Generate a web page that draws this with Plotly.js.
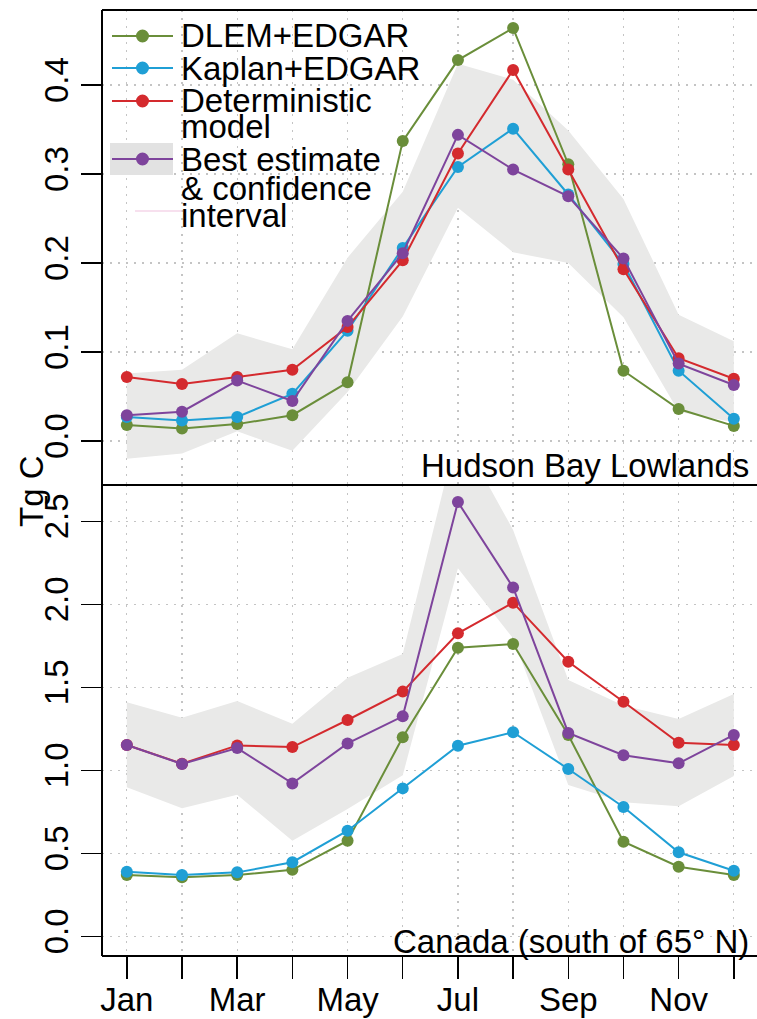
<!DOCTYPE html>
<html>
<head>
<meta charset="utf-8">
<script src="https://cdn.plot.ly/plotly-3.0.1.min.js"></script>
<style>
  html, body { margin: 0; padding: 0; background: #fff; overflow: hidden; }
  #chart { width: 757px; height: 1019px; }
</style>
</head>
<body>
<div id="chart"></div>
<script>
// ---------- data ----------
const monthIdx = [1, 2, 3, 4, 5, 6, 7, 8, 9, 10, 11, 12];
const monthNames = ['Jan','Feb','Mar','Apr','May','Jun','Jul','Aug','Sep','Oct','Nov','Dec'];
const tickLabels = ['Jan','','Mar','','May','','Jul','','Sep','','Nov',''];

// Hudson Bay Lowlands (Tg C)
const hblDLEM   = [0.018, 0.014, 0.019, 0.029, 0.066, 0.337, 0.428, 0.464, 0.311, 0.079, 0.036, 0.017];
const hblKaplan = [0.027, 0.023, 0.027, 0.053, 0.124, 0.217, 0.308, 0.351, 0.277, 0.199, 0.079, 0.025];
const hblDet    = [0.072, 0.064, 0.072, 0.080, 0.128, 0.203, 0.323, 0.417, 0.305, 0.193, 0.093, 0.070];
const hblBest   = [0.029, 0.033, 0.068, 0.045, 0.135, 0.211, 0.344, 0.305, 0.275, 0.205, 0.087, 0.063];
const hblUpper  = [0.076, 0.080, 0.121, 0.103, 0.206, 0.280, 0.424, 0.406, 0.349, 0.272, 0.142, 0.112];
const hblLower  = [-0.020, -0.014, 0.011, -0.011, 0.055, 0.140, 0.262, 0.212, 0.200, 0.139, 0.033, 0.021];

// Canada (south of 65° N) (Tg C)
const canDLEM   = [0.369, 0.355, 0.369, 0.400, 0.576, 1.199, 1.739, 1.761, 1.213, 0.570, 0.419, 0.369];
const canKaplan = [0.389, 0.369, 0.385, 0.446, 0.636, 0.891, 1.148, 1.229, 1.008, 0.779, 0.506, 0.395];
const canDet    = [1.152, 1.040, 1.150, 1.140, 1.303, 1.474, 1.825, 2.010, 1.654, 1.413, 1.166, 1.152];
const canBest   = [1.152, 1.038, 1.134, 0.921, 1.162, 1.325, 2.616, 2.102, 1.225, 1.091, 1.042, 1.213];
const canUpper  = [1.410, 1.316, 1.417, 1.280, 1.558, 1.700, 3.050, 2.448, 1.544, 1.390, 1.309, 1.460];
const canLower  = [0.898, 0.771, 0.853, 0.575, 0.766, 0.970, 2.217, 1.795, 0.911, 0.808, 0.783, 0.966];

const hblTicks = [0, 0.1, 0.2, 0.3, 0.4];
const hblTickText = ['0.0', '0.1', '0.2', '0.3', '0.4'];
const canTicks = [0, 0.5, 1, 1.5, 2, 2.5];
const canTickText = ['0.0', '0.5', '1.0', '1.5', '2.0', '2.5'];

const seriesNames = ['DLEM+EDGAR', 'Kaplan+EDGAR', 'Deterministic model', 'Best estimate & confidence interval'];

// ---------- styles ----------
const cGreen = '#6a8e3a';
const cBlue = '#1f9fd5';
const cRed = '#d42a2e';
const cPurple = '#7e449c';
const cBand = '#e9e9e8';
const FONT = 'Liberation Sans, Arial, Helvetica, sans-serif';
const FS = 33;

// ---------- traces ----------
function band(upper, lower, xa, ya) {
  return {
    x: monthIdx.concat(monthIdx.slice().reverse()),
    y: upper.concat(lower.slice().reverse()),
    xaxis: xa, yaxis: ya,
    type: 'scatter', mode: 'lines', fill: 'toself',
    fillcolor: cBand, line: {width: 0, color: cBand},
    hoverinfo: 'skip', showlegend: false
  };
}
function series(vals, color, name, xa, ya) {
  return {
    x: monthIdx, y: vals, xaxis: xa, yaxis: ya, name: name,
    type: 'scatter', mode: 'lines+markers',
    line: {color: color, width: 2},
    marker: {color: color, size: 12},
    showlegend: false, cliponaxis: true
  };
}

const data = [
  band(hblUpper, hblLower, 'x2', 'y2'),
  band(canUpper, canLower, 'x', 'y'),
  series(hblDLEM, cGreen, seriesNames[0], 'x2', 'y2'),
  series(hblKaplan, cBlue, seriesNames[1], 'x2', 'y2'),
  series(hblDet, cRed, seriesNames[2], 'x2', 'y2'),
  series(hblBest, cPurple, seriesNames[3], 'x2', 'y2'),
  series(canDLEM, cGreen, seriesNames[0], 'x', 'y'),
  series(canKaplan, cBlue, seriesNames[1], 'x', 'y'),
  series(canDet, cRed, seriesNames[2], 'x', 'y'),
  series(canBest, cPurple, seriesNames[3], 'x', 'y')
];

// ---------- layout geometry ----------
const W = 757, H = 1019;
const M = {l: 102, r: 0, t: 10, b: 63};
const PW = W - M.l - M.r, PH = H - M.t - M.b;
const px = x => (x - M.l) / PW;
const py = y => (H - M.b - y) / PH;
const split = py(485);

const gridStyle = {showgrid: true, gridcolor: '#c4c4c4', gridwidth: 1.3, griddash: '2px,6px', zeroline: false};

const layout = {
  width: W, height: H,
  margin: M,
  paper_bgcolor: '#ffffff', plot_bgcolor: '#ffffff',
  font: {family: FONT, size: FS, color: '#000'},
  showlegend: false,
  xaxis: Object.assign({
    domain: [0, 1], anchor: 'y', range: [0.55, 12.42],
    tickmode: 'array', tickvals: monthIdx, ticktext: tickLabels,
    ticks: 'outside', ticklen: 22, tickwidth: 1.5, tickcolor: '#000',
    ticklabelstandoff: -8,
    showline: false, tickfont: {size: FS, family: FONT}
  }, gridStyle),
  xaxis2: Object.assign({
    domain: [0, 1], anchor: 'y2', range: [0.55, 12.42], matches: 'x',
    tickmode: 'array', tickvals: monthIdx, showticklabels: false, ticks: '',
    showline: false
  }, gridStyle),
  yaxis: Object.assign({
    domain: [0, split], anchor: 'x', range: [-0.119, 2.719],
    tickmode: 'array', tickvals: canTicks, ticktext: canTickText,
    tickangle: -90, ticks: 'outside', ticklen: 20, tickwidth: 1.5, tickcolor: '#000',
    showline: false, tickfont: {size: FS, family: FONT}
  }, gridStyle),
  yaxis2: Object.assign({
    domain: [split, 1], anchor: 'x2', range: [-0.0494, 0.4843],
    tickmode: 'array', tickvals: hblTicks, ticktext: hblTickText,
    tickangle: -90, ticks: 'outside', ticklen: 20, tickwidth: 1.5, tickcolor: '#000',
    showline: false, tickfont: {size: FS, family: FONT}
  }, gridStyle),
  shapes: [],
  annotations: []
};

// panel borders (left, top, middle, bottom)
const border = {color: '#000', width: 2};
layout.shapes.push(
  {type: 'line', xref: 'paper', yref: 'paper', x0: 0, x1: 0, y0: 0, y1: 1, line: border},
  {type: 'line', xref: 'paper', yref: 'paper', x0: 0, x1: 1.01, y0: 1, y1: 1, line: border},
  {type: 'line', xref: 'paper', yref: 'paper', x0: 0, x1: 1.01, y0: split, y1: split, line: border},
  {type: 'line', xref: 'paper', yref: 'paper', x0: 0, x1: 1.01, y0: 0, y1: 0, line: border}
);

// legend (drawn manually in the top-left corner)
const legendRows = [
  {color: cGreen, y: 36, text: 'DLEM+EDGAR'},
  {color: cBlue, y: 68, text: 'Kaplan+EDGAR'},
  {color: cRed, y: 101, text: 'Deterministic'},
  {color: null, y: 127, text: 'model'},
  {color: cPurple, y: 159, text: 'Best estimate', box: true},
  {color: null, y: 188, text: '& confidence'},
  {color: null, y: 215, text: 'interval'}
];
legendRows.forEach(r => {
  if (r.box) {
    layout.shapes.push({type: 'rect', xref: 'paper', yref: 'paper', layer: 'above',
      x0: px(110), x1: px(173), y0: py(175), y1: py(143),
      fillcolor: '#e2e2e2', line: {width: 0}});
  }
  if (r.color) {
    layout.shapes.push({type: 'line', xref: 'paper', yref: 'paper', layer: 'above',
      x0: px(112), x1: px(173), y0: py(r.y), y1: py(r.y),
      line: {color: r.color, width: 2}});
    layout.shapes.push({type: 'circle', xref: 'paper', yref: 'paper', layer: 'above',
      xsizemode: 'pixel', ysizemode: 'pixel',
      xanchor: px(142.5), yanchor: py(r.y), x0: -6.5, x1: 6.5, y0: -6.5, y1: 6.5,
      fillcolor: r.color, line: {width: 0}});
  }
  layout.annotations.push({xref: 'paper', yref: 'paper', x: px(179), y: py(r.y),
    xanchor: 'left', yanchor: 'middle', showarrow: false, text: r.text,
    font: {family: FONT, size: FS, color: '#000'}});
});
// faint pink legend stroke
layout.shapes.push({type: 'line', xref: 'paper', yref: 'paper', layer: 'above',
  x0: px(135), x1: px(182), y0: py(211), y1: py(211),
  line: {color: '#f4d6e8', width: 1.5}});

// panel labels
layout.annotations.push(
  {xref: 'paper', yref: 'y2', x: px(751), y: -0.028, xanchor: 'right', yanchor: 'middle',
   showarrow: false, text: 'Hudson Bay Lowlands', font: {family: FONT, size: FS, color: '#000'}},
  {xref: 'paper', yref: 'y', x: px(751), y: -0.03, xanchor: 'right', yanchor: 'middle',
   showarrow: false, text: 'Canada (south of 65° N)', font: {family: FONT, size: FS, color: '#000'}},
  {xref: 'paper', yref: 'paper', x: px(31), y: py(491), xanchor: 'center', yanchor: 'middle',
   textangle: -90, showarrow: false, text: 'Tg C', font: {family: FONT, size: FS, color: '#000'}}
);

Plotly.newPlot('chart', data, layout, {displayModeBar: false, staticPlot: true});
</script>
</body>
</html>
